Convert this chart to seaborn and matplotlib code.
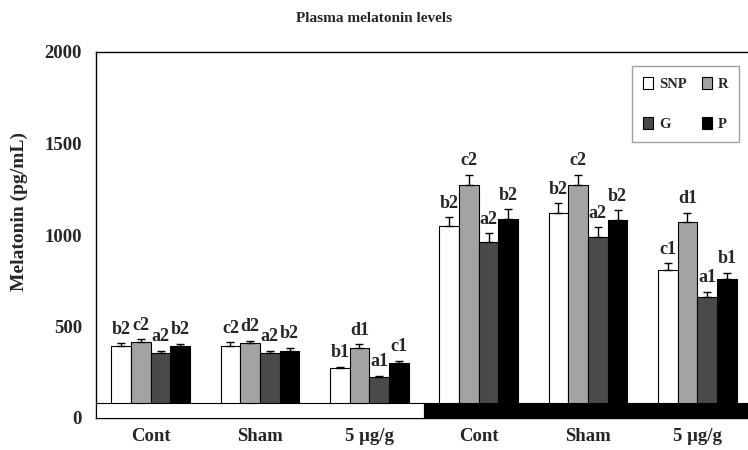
import matplotlib
matplotlib.use("Agg")
import matplotlib.pyplot as plt
from matplotlib.patches import Patch, Rectangle
import pandas as pd
import seaborn as sns

# Groups along the x axis (light phase: first three, dark phase: last three)
groups = ["Cont", "Sham", "5 μg/g", "Cont", "Sham", "5 μg/g"]
series = ["SNP", "R", "G", "P"]

# Mean plasma melatonin (pg/mL) per series and group
snp = [395, 395, 275, 1050, 1120, 808]
r_vals = [415, 408, 385, 1275, 1275, 1073]
g_vals = [353, 353, 225, 962, 991, 661]
p_vals = [392, 368, 298, 1088, 1081, 762]

# Standard errors
snp_err = [13, 20, 6, 46, 55, 37]
r_err = [15, 14, 17, 55, 55, 48]
g_err = [15, 15, 6, 47, 51, 30]
p_err = [15, 17, 15, 53, 53, 31]

# Significance letters
snp_lab = ["b2", "c2", "b1", "b2", "b2", "c1"]
r_lab = ["c2", "d2", "d1", "c2", "c2", "d1"]
g_lab = ["a2", "a2", "a1", "a2", "a2", "a1"]
p_lab = ["b2", "b2", "c1", "b2", "b2", "b1"]

values = {"SNP": snp, "R": r_vals, "G": g_vals, "P": p_vals}
errors = {"SNP": snp_err, "R": r_err, "G": g_err, "P": p_err}
letters = {"SNP": snp_lab, "R": r_lab, "G": g_lab, "P": p_lab}
colors = {"SNP": "#ffffff", "R": "#a3a3a3", "G": "#4a4a4a", "P": "#000000"}

rows = []
for s in series:
    for i, v in enumerate(values[s]):
        rows.append({"slot": i, "series": s, "value": v})
df = pd.DataFrame(rows)

sns.set_style("white")
serif = ["Liberation Serif", "DejaVu Serif"]
plt.rcParams["font.family"] = serif
plt.rcParams["font.weight"] = "bold"

fig = plt.figure(figsize=(7.48, 4.5), dpi=100)
ax = fig.add_axes([96 / 748, 1 - 418 / 450, 656 / 748, 366 / 450])

sns.barplot(data=df, x="slot", y="value", hue="series", hue_order=series,
            palette=colors, width=0.72, edgecolor="black", linewidth=0.8,
            errorbar=None, legend=False, ax=ax, zorder=2)

for s, cont in zip(series, ax.containers):
    xs = [p.get_x() + p.get_width() / 2 for p in cont.patches]
    hs = [p.get_height() for p in cont.patches]
    ax.errorbar(xs, hs, yerr=[[0] * len(hs), errors[s]], fmt="none",
                ecolor="black", elinewidth=1.0, capsize=3, capthick=1.0, zorder=3)
    for x, h, e, lab in zip(xs, hs, errors[s], letters[s]):
        ax.annotate(lab, (x, h + e), xytext=(0, 10), textcoords="offset points",
                    ha="center", va="center", fontsize=13, fontweight="bold",
                    family=serif, zorder=4)

# Light / dark phase band along the bottom
ax.add_patch(Rectangle((-0.5, 0), 3.0, 80, facecolor="white", edgecolor="black",
                       linewidth=0.8, zorder=5))
ax.add_patch(Rectangle((2.5, 0), 3.6, 80, facecolor="black", edgecolor="black",
                       linewidth=0.8, zorder=5))

ax.set_xlim(-0.5, 5.5)
ax.set_ylim(0, 2000)
ax.set_yticks([0, 500, 1000, 1500, 2000])
ax.set_xticks(range(len(groups)))
ax.set_xticklabels(groups)
ax.tick_params(axis="y", direction="out", length=4, width=1, labelsize=13.5, pad=6)
ax.tick_params(axis="x", length=0, labelsize=13.5, pad=7)
for lbl in ax.get_xticklabels() + ax.get_yticklabels():
    lbl.set_fontweight("bold")
ax.set_xlabel("")
ax.set_ylabel("Melatonin (pg/mL)", fontsize=14, fontweight="bold")
ax.yaxis.set_label_coords(-0.104, 0.563)
for sp in ax.spines.values():
    sp.set_color("black")
    sp.set_linewidth(1.0)

fig.text(374 / 748, 1 - 18 / 450, "Plasma melatonin levels", ha="center",
         va="center", fontsize=11, fontweight="bold")

handles = [Patch(facecolor=colors[s], edgecolor="black", linewidth=0.8, label=s)
           for s in ["SNP", "G", "R", "P"]]
leg = fig.legend(handles=handles, ncol=2, loc="upper right",
                 bbox_to_anchor=(739 / 748, 1 - 66 / 450), frameon=True,
                 fancybox=False, edgecolor="#888888", borderaxespad=0,
                 handlelength=0.7, handleheight=0.9, handletextpad=0.4,
                 columnspacing=1.0, labelspacing=1.8, borderpad=0.75,
                 prop={"family": serif, "weight": "bold", "size": 10.5})
leg.get_frame().set_linewidth(1.0)

fig.savefig("out.png", dpi=100)
